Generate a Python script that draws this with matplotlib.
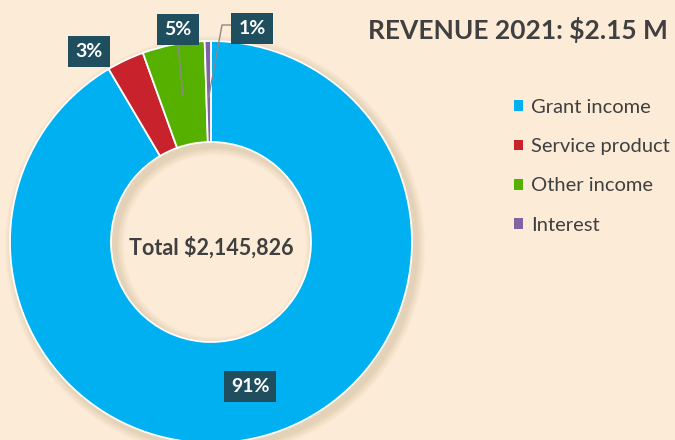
import numpy as np
import matplotlib.pyplot as plt
from matplotlib.patches import Patch, Wedge

# revenue 2021 by source (USD)
sources = ['Grant income', 'Service product', 'Other income', 'Interest']
amounts = [1963326, 64400, 107300, 10800]
colors = ['#00B0F0', '#C8232C', '#56B000', '#8064A2']
title = 'REVENUE 2021: $2.15 M'

total = sum(amounts)
shares = [a / total * 100 for a in amounts]
labels = ['%d%%' % round(s) for s in shares]

plt.rcParams['font.family'] = ['Lato', 'DejaVu Sans']
bg = '#FCEBD6'
fig = plt.figure(figsize=(6.75, 4.4), dpi=100)
fig.patch.set_facecolor(bg)
ax = fig.add_axes([0, 0, 1, 1])
ax.set_facecolor(bg)

cx, cy = 211, 198
r_out, r_in = 201, 100

# soft shadow under the ring
for k in range(8):
    ax.add_patch(Wedge((cx + 4, cy - 4), r_out + 9 - k, 0, 360, width=r_out - r_in + 18 - 2 * k,
                       fc='#8a6a40', ec='none', alpha=0.025))

wedges, _ = ax.pie(amounts, colors=colors, radius=r_out, center=(cx, cy),
                   startangle=90, counterclock=False,
                   wedgeprops=dict(width=r_out - r_in, edgecolor='white', linewidth=1.3))

ax.set_xlim(0, 675)
ax.set_ylim(0, 440)
ax.set_aspect('equal')
ax.axis('off')

box = dict(boxstyle='square,pad=0.36', fc='#1F4E5F', ec='none')
lab_kw = dict(color='white', fontsize=14, fontweight='bold', ha='center', va='center', bbox=box)

# label positions in px (from top-left)
pos = [(250, 386), (89, 51), (178, 29), (252, 28)]
for i, w in enumerate(wedges):
    mid = np.deg2rad((w.theta1 + w.theta2) / 2)
    px, py = pos[i]
    ax.text(px, 440 - py, labels[i], **lab_kw)
    if i == 2:
        x0, y0 = cx + 150 * np.cos(mid), cy + 150 * np.sin(mid)
        ax.plot([px, x0], [440 - py - 15, y0], color='#8a8a8a', lw=1)
    if i == 3:
        x0, y0 = cx + 145 * np.cos(mid), cy + 145 * np.sin(mid)
        ax.plot([px - 21, px - 30, x0], [440 - py + 3, 440 - py + 3, y0], color='#8a8a8a', lw=1)

ax.text(cx, cy - 6, 'Total $%s' % format(total, ','), color='#3F3F3F',
        fontsize=15.5, fontweight='bold', ha='center', va='center')

fig.text(668 / 675, 1 - 30 / 440, title, color='#404040', fontsize=19,
         fontweight='bold', ha='right', va='center')

handles = [Patch(fc=c, ec='none') for c in colors]
fig.legend(handles, sources, loc='upper left', bbox_to_anchor=(506 / 675, 1 - 91 / 440),
           frameon=False, fontsize=14.5, labelcolor='#404040', handlelength=0.45,
           handleheight=0.45, handletextpad=0.4, labelspacing=1.1, borderaxespad=0)

fig.savefig('out.png', dpi=100, facecolor=bg)
